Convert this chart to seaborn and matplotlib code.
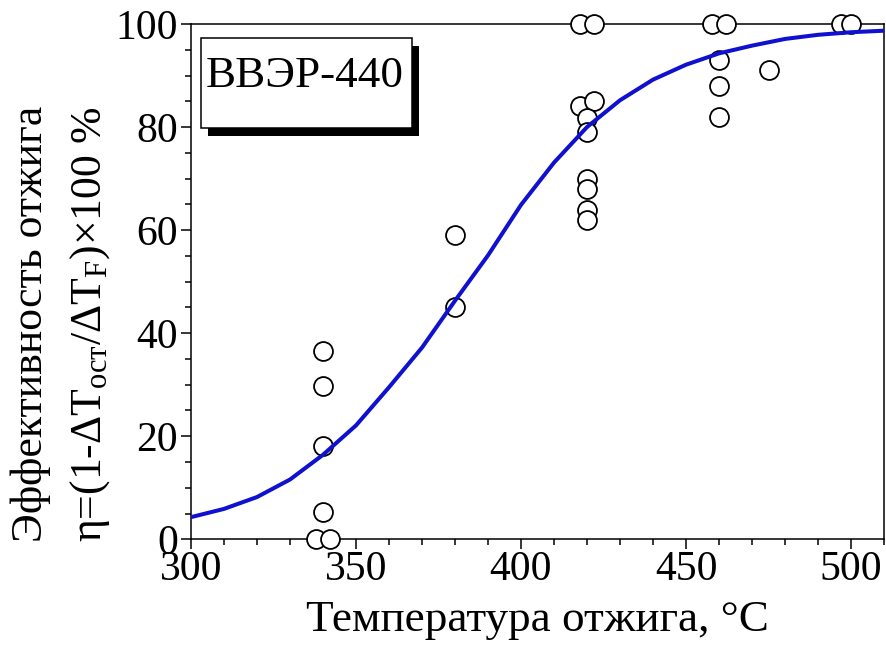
import matplotlib
matplotlib.use("Agg")
import matplotlib.pyplot as plt
from matplotlib.patches import Rectangle
from matplotlib.ticker import MultipleLocator
import pandas as pd
import seaborn as sns

# Measured annealing efficiency, VVER-440 samples
temp_c = [338, 342, 340, 340, 340, 340,
          380, 380,
          418, 422, 418, 422, 420, 420, 420, 420, 420, 420,
          458, 462, 460, 460, 460, 475,
          497, 500]
efficiency = [0, 0, 5.3, 18.2, 29.7, 36.5,
              45, 59,
              100, 100, 84, 85, 81.7, 79, 70, 68, 64, 62,
              100, 100, 93, 88, 82, 91,
              100, 100]

# Fitted recovery curve, sampled every 10 °C
fit_temp = list(range(300, 511, 10))
fit_eff = [4.3, 5.9, 8.2, 11.6, 16.4, 22.1, 29.5, 37.2, 46.3, 55.1, 64.9,
           73.1, 80.0, 85.2, 89.2, 92.1, 94.3, 95.8, 97.1, 97.9, 98.4, 98.7]

x_ticks = [300, 350, 400, 450, 500]
y_ticks = [0, 20, 40, 60, 80, 100]

sns.set_theme(style="ticks")
plt.rcParams.update({
    "font.family": ["Liberation Serif", "DejaVu Serif"],
    "mathtext.fontset": "custom",
    "mathtext.rm": "Liberation Serif",
    "mathtext.it": "Liberation Serif:italic",
    "mathtext.bf": "Liberation Serif:bold",
    "axes.linewidth": 1.1,
    "axes.edgecolor": "black",
    "text.color": "black",
    "axes.labelcolor": "black",
    "xtick.color": "black",
    "ytick.color": "black",
})

W, H = 886, 647
fig = plt.figure(figsize=(W / 100, H / 100), dpi=100)
ax = fig.add_axes([191 / W, 1 - 539.3 / H, (884 - 191) / W, (539.3 - 24) / H])

pts = pd.DataFrame({"T": temp_c, "eta": efficiency})
fit = pd.DataFrame({"T": fit_temp, "eta": fit_eff})

sns.scatterplot(data=pts, x="T", y="eta", ax=ax, marker="o", s=185,
                color="white", edgecolor="black", linewidth=1.3,
                zorder=4, clip_on=False)
sns.lineplot(data=fit, x="T", y="eta", ax=ax, color="#1010d0",
             linewidth=2.9, zorder=5)

ax.set_xlim(300, 510)
ax.set_ylim(0, 100)
ax.set_xticks(x_ticks)
ax.set_yticks(y_ticks)
ax.xaxis.set_minor_locator(MultipleLocator(10))
ax.yaxis.set_minor_locator(MultipleLocator(5))
ax.tick_params(which="both", direction="out", top=False, right=False,
               color="black", width=1.1, labelcolor="black")
ax.tick_params(which="major", length=7.5, labelsize=30)
ax.tick_params(axis="x", which="major", pad=0.5)
ax.tick_params(axis="y", which="major", pad=2)
ax.tick_params(which="minor", length=4.3)
for s in ax.spines.values():
    s.set_visible(True)
    s.set_zorder(1)

ax.set_xlabel("Температура отжига, °C", fontsize=32.5, labelpad=8)
ax.set_ylabel("")

# two-line y axis title
fig.text(31 / W, 1 - 324 / H, "Эффективность отжига", rotation=90,
         ha="center", va="center", fontsize=31.5)
fig.text(90 / W, 1 - 324 / H,
         r"η=(1-ΔT$_{\mathrm{ост}}$/ΔT$_{\mathrm{F}}$)×100 %", rotation=90,
         ha="center", va="center", fontsize=31.5)

# label box with drop shadow
bx, by, bw, bh = 200.7, 127.7, 211.6, 89.4
fig.add_artist(Rectangle(((bx + 7) / W, 1 - (by + 8) / H), bw / W, bh / H,
                         transform=fig.transFigure, facecolor="black",
                         edgecolor="none", zorder=10))
fig.add_artist(Rectangle((bx / W, 1 - by / H), bw / W, bh / H,
                         transform=fig.transFigure, facecolor="white",
                         edgecolor="black", linewidth=1.1, zorder=11))
fig.text(304.7 / W, 1 - 86.7 / H, "ВВЭР-440", ha="center", va="baseline",
         fontsize=32.5, zorder=12)

fig.savefig("out.png", dpi=100, facecolor="white")
